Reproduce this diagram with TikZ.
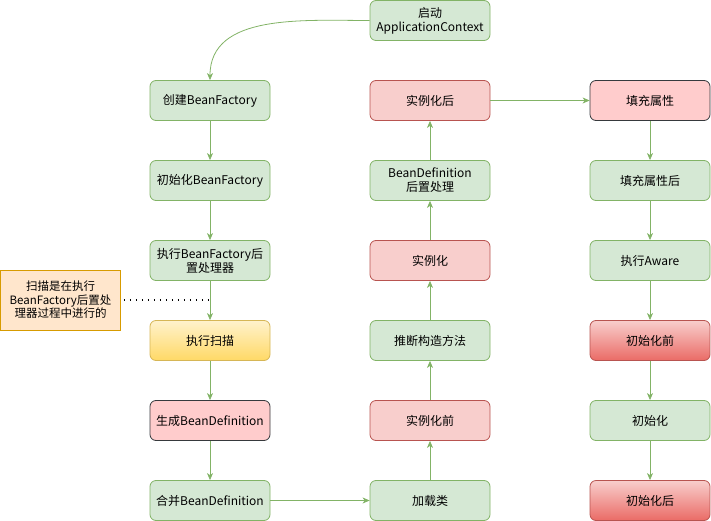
\documentclass[tikz,border=0pt]{standalone}
\usepackage{fontspec}
\setmainfont{Noto Sans CJK SC}
\usetikzlibrary{arrows.meta}
\definecolor{gfill}{HTML}{D5E8D4}
\definecolor{gline}{HTML}{82B366}
\definecolor{pfill}{HTML}{F8CECC}
\definecolor{pline}{HTML}{B85450}
\definecolor{qfill}{HTML}{FFCCCC}
\definecolor{qline}{HTML}{36393D}
\definecolor{ytop}{HTML}{FFF2CC}
\definecolor{ybot}{HTML}{FFD966}
\definecolor{yline}{HTML}{D6B656}
\definecolor{rbot}{HTML}{EA6B66}
\definecolor{nfill}{HTML}{FFE6CC}
\definecolor{nline}{HTML}{D79B00}
\begin{document}
\begin{tikzpicture}[x=1pt,y=-1pt,
  box/.style={rounded corners=6pt,minimum width=120pt,minimum height=40pt,align=center,
    line width=0.8pt,font=\fontsize{12}{14}\selectfont,inner sep=2pt},
  gbox/.style={box,draw=gline,fill=gfill},
  pbox/.style={box,draw=pline,fill=pfill},
  qbox/.style={box,draw=qline,fill=qfill},
  ybox/.style={box,draw=yline,top color=ytop,bottom color=ybot},
  rbox/.style={box,draw=pline,top color=pfill,bottom color=rbot},
  notebox/.style={draw=nline,fill=nfill,line width=0.8pt,minimum width=120pt,minimum height=60pt,
    align=center,font=\fontsize{11.5}{13.5}\selectfont,inner sep=1pt},
  arr/.style={draw=gline,line width=0.8pt,-{Stealth[length=7pt,width=6pt,inset=2pt]}},
  dots/.style={draw=black,line width=1.3pt,dash pattern=on 1.3pt off 4.7pt}
]
\useasboundingbox (0,0) rectangle (711,521);
% top
\node[gbox] (start) at (430,20.5) {启动\\ApplicationContext};
% left column
\node[gbox] (l1) at (210,100.5) {创建BeanFactory};
\node[gbox] (l2) at (210,180.5) {初始化BeanFactory};
\node[gbox] (l3) at (210,260.5) {执行BeanFactory后\\置处理器};
\node[ybox] (l4) at (210,340.5) {执行扫描};
\node[qbox] (l5) at (210,420.5) {生成BeanDefinition};
\node[gbox] (l6) at (210,500.5) {合并BeanDefinition};
% middle column
\node[gbox] (m1) at (430,500.5) {加载类};
\node[pbox] (m2) at (430,420.5) {实例化前};
\node[gbox] (m3) at (430,340.5) {推断构造方法};
\node[pbox] (m4) at (430,260.5) {实例化};
\node[gbox] (m5) at (430,180.5) {BeanDefinition\\后置处理};
\node[pbox] (m6) at (430,100.5) {实例化后};
% right column
\node[qbox] (r1) at (650,100.5) {填充属性};
\node[gbox] (r2) at (650,180.5) {填充属性后};
\node[gbox] (r3) at (650,260.5) {执行Aware};
\node[rbox] (r4) at (650,340.5) {初始化前};
\node[gbox] (r5) at (650,420.5) {初始化};
\node[rbox] (r6) at (650,500.5) {初始化后};
% note
\node[notebox] (note) at (60.5,300) {扫描是在执行\\BeanFactory后置处\\理器过程中进行的};
\coordinate (dotend) at (210,300);
% connectors
\draw[arr] (start.west) to[out=180,in=90] (l1.north);
\draw[arr] (l1) -- (l2);
\draw[arr] (l2) -- (l3);
\draw[arr] (l3) -- (l4);
\draw[arr] (l4) -- (l5);
\draw[arr] (l5) -- (l6);
\draw[arr] (l6) -- (m1);
\draw[arr] (m1) -- (m2);
\draw[arr] (m2) -- (m3);
\draw[arr] (m3) -- (m4);
\draw[arr] (m4) -- (m5);
\draw[arr] (m5) -- (m6);
\draw[arr] (m6) -- (r1);
\draw[arr] (r1) -- (r2);
\draw[arr] (r2) -- (r3);
\draw[arr] (r3) -- (r4);
\draw[arr] (r4) -- (r5);
\draw[arr] (r5) -- (r6);
\draw[dots] ([xshift=3pt]note.east) -- (dotend);
\end{tikzpicture}
\end{document}
